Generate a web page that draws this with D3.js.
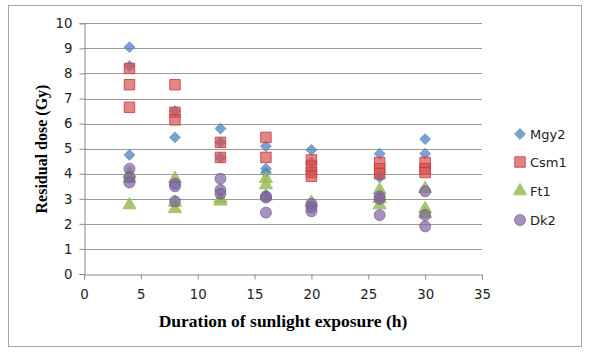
<!DOCTYPE html>
<html><head><meta charset="utf-8">
<script src="https://cdn.jsdelivr.net/npm/d3@7"></script>
<style>body{margin:0;background:#fff}svg{display:block}</style>
</head><body>
<script>
const seriesNames = ["Mgy2", "Csm1", "Ft1", "Dk2"];
const xTicks = [0,5,10,15,20,25,30,35];
const yTicks = [0,1,2,3,4,5,6,7,8,9,10];
const mgy2 = [[4,9.05],[4,8.3],[4,4.75],[8,6.5],[8,5.45],[12,5.8],[12,5.25],[12,4.65],[16,5.1],[16,4.2],[16,4.05],[20,4.95],[20,4.45],[20,4.05],[26,4.8],[26,3.95],[26,3.85],[30,5.38],[30,4.8]];
const csm1 = [[4,8.2],[4,7.55],[4,6.65],[8,7.55],[8,6.45],[8,6.15],[12,5.25],[12,4.65],[16,5.45],[16,4.65],[20,4.55],[20,4.3],[20,4.05],[20,3.9],[26,4.45],[26,4.2],[26,4.0],[30,4.45],[30,4.2],[30,4.05]];
const ft1 = [[4,4.0],[4,3.8],[4,2.75],[8,3.8],[8,2.85],[8,2.6],[12,3.0],[12,2.9],[16,3.8],[16,3.55],[16,3.1],[20,2.85],[26,3.35],[26,3.0],[26,2.75],[30,3.4],[30,2.6],[30,2.4]];
const dk2 = [[4,4.2],[4,3.85],[4,3.65],[8,3.6],[8,3.5],[8,2.9],[12,3.8],[12,3.35],[12,3.2],[16,3.1],[16,3.05],[16,2.45],[20,2.8],[20,2.65],[20,2.5],[26,3.1],[26,3.0],[26,2.35],[30,3.3],[30,2.35],[30,1.9]];
const seriesData = [mgy2, csm1, ft1, dk2];

const W = 589, H = 356;
const svg = d3.select("body").append("svg").attr("width", W).attr("height", H);
svg.append("rect").attr("x", 8.5).attr("y", 5.5).attr("width", 573).attr("height", 341)
  .attr("fill", "#fff").attr("stroke", "#A6A6A6").attr("stroke-width", 1);

const x = d3.scaleLinear().domain([0,35]).range([84,482]);
const y = d3.scaleLinear().domain([0,10]).range([274,23.3]);

// gridlines
svg.append("g").selectAll("line").data(yTicks.filter(d => d > 0)).join("line")
  .attr("x1", x(0)).attr("x2", x(35))
  .attr("y1", d => Math.round(y(d)) + 0.5).attr("y2", d => Math.round(y(d)) + 0.5)
  .attr("stroke", "#9A9A9A").attr("stroke-width", 1);

const axisFont = "'DejaVu Sans', sans-serif";
const gy = svg.append("g").attr("transform", `translate(${x(0)+0.5},0)`)
  .call(d3.axisLeft(y).tickValues(yTicks).tickSize(5).tickPadding(7).tickFormat(d3.format("d")));
const gx = svg.append("g").attr("transform", `translate(0,${Math.round(y(0))+0.5})`)
  .call(d3.axisBottom(x).tickValues(xTicks).tickSize(5).tickPadding(10).tickFormat(d3.format("d")));
[gx, gy].forEach(g => {
  g.select(".domain").attr("stroke", "#8C8C8C");
  g.selectAll(".tick line").attr("stroke", "#8C8C8C");
  g.selectAll("text").attr("font-family", axisFont).attr("font-size", 13.3).attr("fill", "#222");
});

const diamond = { draw(ctx, size) { const r = Math.sqrt(size) / Math.SQRT2; ctx.moveTo(0,-r); ctx.lineTo(r,0); ctx.lineTo(0,r); ctx.lineTo(-r,0); ctx.closePath(); } };
const fills = ["rgba(79,129,189,0.75)", "rgba(220,80,80,0.7)", "rgba(155,187,89,0.85)", "rgba(128,100,162,0.7)"];
const strokes = ["rgba(79,129,189,0.6)", "rgba(192,60,60,0.8)", "rgba(155,187,89,0.8)", "rgba(100,80,140,0.6)"];
const symbols = [
  d3.symbol().type(diamond).size(60),
  d3.symbol().type(d3.symbolSquare).size(110),
  d3.symbol().type(d3.symbolTriangle).size(75),
  d3.symbol().type(d3.symbolCircle).size(95)
];

seriesData.forEach((data, i) => {
  svg.append("g").selectAll("path").data(data).join("path")
    .attr("transform", d => `translate(${x(d[0])},${y(d[1])})`)
    .attr("d", symbols[i]())
    .attr("fill", fills[i]).attr("stroke", strokes[i]).attr("stroke-width", 1);
});

// legend
const legY = [134, 162, 191, 220];
const leg = svg.append("g");
seriesNames.forEach((n, i) => {
  leg.append("path").attr("transform", `translate(520,${legY[i]})`).attr("d", symbols[i]())
    .attr("fill", fills[i]).attr("stroke", strokes[i]);
  leg.append("text").attr("x", 530).attr("y", legY[i] + 5).text(n)
    .attr("font-family", axisFont).attr("font-size", 13).attr("fill", "#222");
});

// axis titles
svg.append("text").attr("x", 283).attr("y", 327).attr("text-anchor", "middle")
  .attr("font-family", "'Liberation Serif', 'Times New Roman', serif").attr("font-weight", "bold").attr("font-size", 17.5)
  .text("Duration of sunlight exposure (h)");
svg.append("text").attr("transform", "translate(47,149) rotate(-90)").attr("text-anchor", "middle")
  .attr("font-family", "'Liberation Serif', 'Times New Roman', serif").attr("font-weight", "bold").attr("font-size", 16)
  .text("Residual dose (Gy)");
</script>
</body></html>
